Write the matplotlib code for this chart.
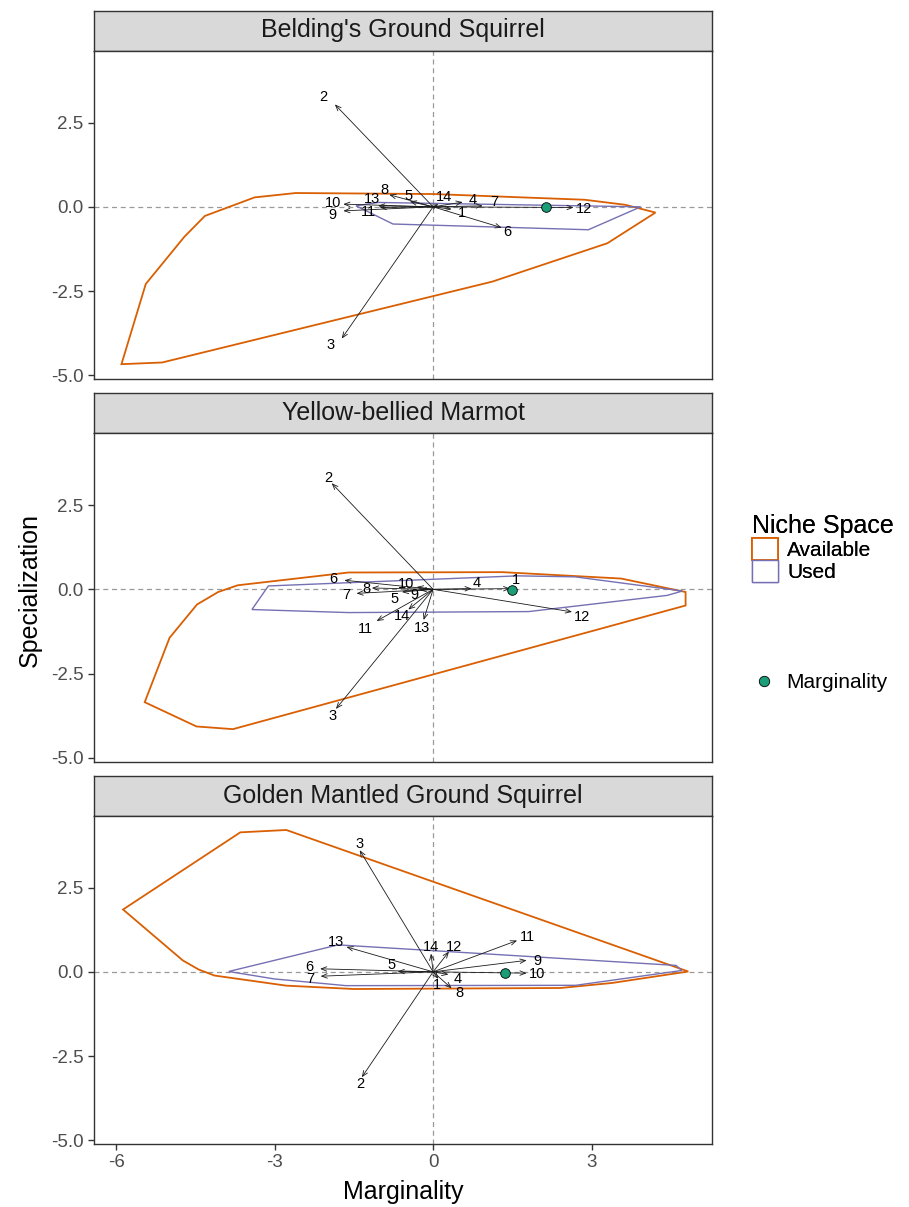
import matplotlib
matplotlib.use("Agg")
import matplotlib.pyplot as plt
from matplotlib.patches import Patch
from matplotlib.lines import Line2D

plt.rcParams['font.family'] = ['Liberation Sans', 'DejaVu Sans']
plt.rcParams['axes.unicode_minus'] = False

# colours (Dark2)
AVAIL_COL = '#D95F02'
USED_COL = '#7570B3'
MARG_COL = '#1B9E77'

species = ["Belding's Ground Squirrel", "Yellow-bellied Marmot", "Golden Mantled Ground Squirrel"]
var_labels = [str(i) for i in range(1, 15)]

# Belding's Ground Squirrel
bgs_avail_x = [-5.90, -5.13, 1.12, 3.30, 4.21, 3.64, 2.87, 0.0, -2.60, -3.38, -4.32, -4.71, -5.44]
bgs_avail_y = [-4.67, -4.62, -2.22, -1.08, -0.17, 0.06, 0.21, 0.38, 0.41, 0.28, -0.27, -0.89, -2.29]
bgs_used_x = [-1.46, -1.04, 3.93, 2.94, -0.76]
bgs_used_y = [0.03, 0.13, 0.0, -0.68, -0.51]
bgs_marg = (2.13, 0.0)
bgs_arrow_x = [0.35, -1.86, -1.73, 0.56, -0.44, 1.30, 0.94, -0.83, -1.70, -1.70, -1.01, 2.66, -1.04, 0.10]
bgs_arrow_y = [-0.07, 3.04, -3.91, 0.14, 0.16, -0.62, 0.03, 0.36, -0.12, 0.08, -0.02, -0.02, 0.03, 0.08]
bgs_label_x = [0.54, -2.07, -1.95, 0.75, -0.46, 1.41, 1.15, -0.93, -1.90, -1.90, -1.23, 2.85, -1.16, 0.20]
bgs_label_y = [-0.19, 3.25, -4.11, 0.21, 0.33, -0.74, 0.13, 0.51, -0.24, 0.12, -0.16, -0.07, 0.23, 0.29]

# Yellow-bellied Marmot
ybm_avail_x = [-5.46, -4.48, -3.79, 4.78, 4.78, 3.56, 1.31, -1.60, -3.70, -4.07, -4.47, -4.99]
ybm_avail_y = [-3.35, -4.07, -4.15, -0.48, -0.08, 0.32, 0.51, 0.50, 0.12, -0.08, -0.45, -1.44]
ybm_used_x = [-3.43, -3.12, 1.60, 2.69, 4.72, 4.43, 1.81, -1.60]
ybm_used_y = [-0.60, 0.10, 0.40, 0.37, -0.05, -0.18, -0.66, -0.69]
ybm_marg = (1.49, -0.02)
ybm_arrow_x = [1.46, -1.92, -1.84, 0.73, -0.59, -1.68, -1.45, -1.16, -0.25, -0.31, -1.07, 2.63, -0.18, -0.47]
ybm_arrow_y = [0.02, 3.15, -3.55, 0.02, -0.08, 0.27, -0.12, 0.04, -0.02, 0.07, -0.94, -0.67, -0.91, -0.60]
ybm_label_x = [1.56, -1.99, -1.90, 0.83, -0.74, -1.89, -1.65, -1.27, -0.35, -0.51, -1.29, 2.82, -0.21, -0.58]
ybm_label_y = [0.28, 3.29, -3.77, 0.20, -0.28, 0.32, -0.18, 0.02, -0.18, 0.15, -1.17, -0.81, -1.14, -0.79]

# Golden Mantled Ground Squirrel
gmgs_avail_x = [-5.87, -3.65, -2.78, 4.83, 3.39, 2.41, -1.50, -2.78, -4.14, -4.44, -4.74]
gmgs_avail_y = [1.85, 4.14, 4.21, 0.01, -0.33, -0.48, -0.51, -0.41, -0.11, 0.07, 0.34]
gmgs_used_x = [-3.87, -1.80, 4.60, 4.71, 2.70, -1.65, -3.01]
gmgs_used_y = [0.01, 0.80, 0.19, 0.04, -0.40, -0.41, -0.21]
gmgs_marg = (1.37, -0.02)
gmgs_arrow_x = [0.10, -1.35, -1.39, 0.29, -0.67, -2.14, -2.13, 0.35, 1.77, 1.77, 1.59, 0.30, -1.64, -0.04]
gmgs_arrow_y = [-0.21, -3.13, 3.61, -0.08, 0.01, 0.09, -0.13, -0.49, 0.34, -0.04, 0.93, 0.60, 0.74, 0.54]
gmgs_label_x = [0.08, -1.37, -1.40, 0.46, -0.78, -2.35, -2.33, 0.50, 1.97, 1.97, 1.78, 0.40, -1.83, -0.04]
gmgs_label_y = [-0.39, -3.33, 3.78, -0.21, 0.19, 0.14, -0.21, -0.63, 0.31, -0.06, 1.03, 0.74, 0.88, 0.74]

panels = [
    (bgs_avail_x, bgs_avail_y, bgs_used_x, bgs_used_y, bgs_marg, bgs_arrow_x, bgs_arrow_y, bgs_label_x, bgs_label_y),
    (ybm_avail_x, ybm_avail_y, ybm_used_x, ybm_used_y, ybm_marg, ybm_arrow_x, ybm_arrow_y, ybm_label_x, ybm_label_y),
    (gmgs_avail_x, gmgs_avail_y, gmgs_used_x, gmgs_used_y, gmgs_marg, gmgs_arrow_x, gmgs_arrow_y, gmgs_label_x, gmgs_label_y),
]

W, H = 909, 1207
fig = plt.figure(figsize=(W / 100, H / 100), dpi=100)

# panel geometry in pixels
left_px, right_px = 94, 712
strip_h, plot_h, gap = 40, 328.5, 14
top0 = 10.5


def px_box(x0, y0, x1, y1):
    return [x0 / W, 1 - y1 / H, (x1 - x0) / W, (y1 - y0) / H]


def draw_panel(ax, data):
    ax_x, ax_y, us_x, us_y, marg, arr_x, arr_y, lab_x, lab_y = data
    ax.axhline(0, color='#9A9A9A', lw=0.9, ls=(0, (4, 3)), zorder=1)
    ax.axvline(0, color='#9A9A9A', lw=0.9, ls=(0, (4, 3)), zorder=1)
    ax.fill(ax_x, ax_y, facecolor='none', edgecolor=AVAIL_COL, lw=1.3, zorder=2)
    ax.fill(us_x, us_y, facecolor='none', edgecolor=USED_COL, lw=1.0, zorder=3)
    for ex, ey, lx, ly, lab in zip(arr_x, arr_y, lab_x, lab_y, var_labels):
        ax.annotate('', xy=(ex, ey), xytext=(0, 0),
                    arrowprops=dict(arrowstyle='->,head_length=0.5,head_width=0.2',
                                    lw=0.6, color='#1A1A1A', shrinkA=0, shrinkB=0,
                                    mutation_scale=8), zorder=4)
        ax.text(lx, ly, lab, ha='center', va='center', fontsize=10.5, color='black', zorder=5)
    ax.scatter([marg[0]], [marg[1]], s=48, color=MARG_COL, edgecolor='black', lw=0.6, zorder=6)
    ax.set_xlim(-6.42, 5.28)
    ax.set_ylim(-5.11, 4.64)
    ax.set_xticks([-6, -3, 0, 3])
    ax.set_yticks([2.5, 0.0, -2.5, -5.0])
    ax.set_yticklabels(['2.5', '0.0', '-2.5', '-5.0'])
    ax.tick_params(colors='#333333', labelcolor='#4D4D4D', labelsize=13.5, length=4, width=1)
    for s in ax.spines.values():
        s.set_color('#333333')
        s.set_linewidth(1.0)


for i, (name, data) in enumerate(zip(species, panels)):
    y_strip = top0 + i * (strip_h + plot_h + gap)
    y_plot = y_strip + strip_h
    sax = fig.add_axes(px_box(left_px, y_strip, right_px, y_plot))
    sax.set_facecolor('#D9D9D9')
    sax.set_xticks([])
    sax.set_yticks([])
    for s in sax.spines.values():
        s.set_color('#333333')
        s.set_linewidth(1.0)
    sax.text(0.5, 0.5, name, ha='center', va='center', fontsize=18, color='#1A1A1A',
             transform=sax.transAxes)
    ax = fig.add_axes(px_box(left_px, y_plot, right_px, y_plot + plot_h))
    draw_panel(ax, data)
    if i < 2:
        ax.tick_params(axis='x', bottom=False, labelbottom=False)

fig.text(30 / W, 1 - 590 / H, 'Specialization', rotation=90, ha='center', va='center', fontsize=18)
fig.text(403 / W, 1 - 1192 / H, 'Marginality', ha='center', va='center', fontsize=18)

# legends
niche_handles = [Patch(facecolor='white', edgecolor=AVAIL_COL, lw=1.3, label='Available'),
                 Patch(facecolor='white', edgecolor=USED_COL, lw=1.0, label='Used')]
leg1 = fig.legend(handles=niche_handles, title='Niche Space', loc='upper left',
                  bbox_to_anchor=(735 / W, 1 - 497 / H), frameon=False, fontsize=15,
                  title_fontsize=18, handlelength=1.25, handleheight=1.25, labelspacing=0.0,
                  handletextpad=0.45, borderpad=0.3, alignment='left')
marg_handles = [Line2D([], [], marker='o', ls='none', markersize=7.5, markerfacecolor=MARG_COL,
                       markeredgecolor='black', markeredgewidth=0.6, label='Marginality')]
leg2 = fig.legend(handles=marg_handles, loc='center left', bbox_to_anchor=(734 / W, 1 - 683 / H),
                  frameon=False, fontsize=15, handlelength=1.25, handletextpad=0.45, borderpad=0.3)
fig.add_artist(leg1)

fig.savefig('out.png', dpi=100)
